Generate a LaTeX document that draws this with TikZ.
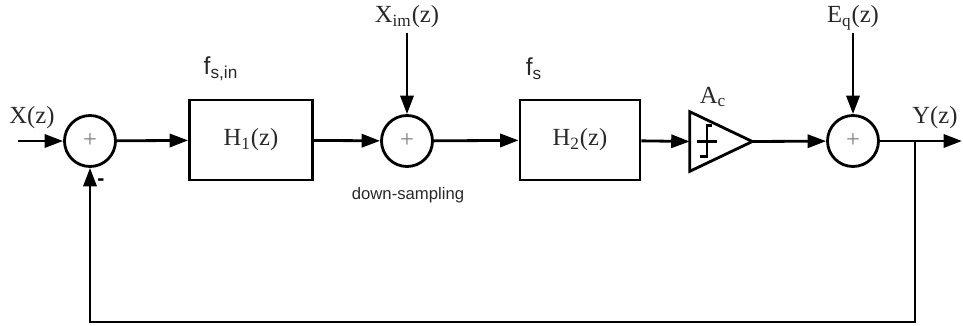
\documentclass[tikz,border=0pt]{standalone}
\usepackage{fontspec}
\setmainfont{Liberation Serif}
\setsansfont{Liberation Sans}
\usetikzlibrary{arrows.meta, positioning, calc}
\definecolor{sigText}{RGB}{40,40,40}

\tikzset{
  sumnode/.style={draw, circle, line width=1.6pt, minimum size=51*0.02cm, inner sep=0pt,
    font=\fontsize{14}{14}\selectfont, text=gray},
  blockbox/.style={draw, line width=1.6pt, inner sep=0pt,
    font=\fontsize{14}{14}\selectfont, text=sigText},
  sig/.style={line width=1.6pt, -{Triangle[length=10.5pt,width=7.5pt]}},
  wire/.style={line width=1.6pt},
  siglabel/.style={font=\fontsize{14}{14}\selectfont, text=sigText, inner sep=0pt},
  ratelabel/.style={font=\sffamily\fontsize{14}{14}\selectfont, text=sigText, inner sep=0pt}
}

\begin{document}
\begin{tikzpicture}[x=0.02cm, y=-0.02cm]
        \useasboundingbox (0,0) rectangle (963,325);
        % Summing junctions
        \node[sumnode] (sum1) at (90,141) {+};
        \node[sumnode] (sum2) at (407,141) {+};
        \node[sumnode] (sum3) at (853,141) {+};
        % Filters
        \node[blockbox, minimum width=123*0.02cm, minimum height=80*0.02cm] (H1) at (251,140) {H\textsubscript{1}(z)};
        \node[blockbox, minimum width=120*0.02cm, minimum height=80*0.02cm] (H2) at (580,140) {H\textsubscript{2}(z)};
        % Quantizer gain
        \node[minimum width=62*0.02cm, minimum height=59*0.02cm, inner sep=0pt] (amp) at (721,141.5) {};
        \draw[wire, line join=miter] (amp.north west) -- (amp.east) -- (amp.south west) -- cycle;
        \draw[line width=1.3pt] ($(amp.west)+(22,-16)$) -- ($(amp.west)+(17,-16)$) -- ($(amp.west)+(17,15)$) -- ($(amp.west)+(10,15)$);
        \draw[line width=1.3pt] ($(amp.west)+(7,0)$) -- ($(amp.west)+(27,0)$);
        % Free ends
        \coordinate (in) at (18,141);
        \coordinate (out) at (962,141);
        \coordinate (br) at (915,141);
        \coordinate (fbR) at (915,322);
        \coordinate (fbL) at (90,322);
        \coordinate (xim) at (407,33);
        \coordinate (eq) at (853,33);
        % Forward path
        \draw[sig] (in) -- (sum1);
        \draw[sig] (sum1) -- (H1);
        \draw[sig] (H1) -- (sum2);
        \draw[sig] (sum2) -- (H2);
        \draw[sig] (H2) -- (amp.west);
        \draw[sig] (amp.east) -- (sum3);
        \draw[sig] (sum3) -- (out);
        \draw[sig] (xim) -- (sum2);
        \draw[sig] (eq) -- (sum3);
        % Feedback
        \draw[sig, line join=miter] (br) -- (fbR) -- (fbL) -- (sum1);
        % Labels
        \node[siglabel] (lx) at (32,118) {X(z)};
        \node[font=\sffamily\bfseries\fontsize{12}{12}\selectfont, inner sep=0pt] (lminus) at (101,182) {-};
        \node[ratelabel] (lfin) at (221,69) {f\textsubscript{s,in}};
        \node[siglabel] (lxim) at (407,17) {X\textsubscript{im}(z)};
        \node[font=\sffamily\fontsize{9.5}{9.5}\selectfont, text=sigText, inner sep=0pt] (lds) at (408,195) {down-sampling};
        \node[ratelabel] (lfs) at (534,69) {f\textsubscript{s}};
        \node[siglabel] (lac) at (713,97) {A\textsubscript{c}};
        \node[siglabel] (leq) at (853,18) {E\textsubscript{q}(z)};
        \node[siglabel] (ly) at (935,118) {Y(z)};
      \end{tikzpicture}
\end{document}
